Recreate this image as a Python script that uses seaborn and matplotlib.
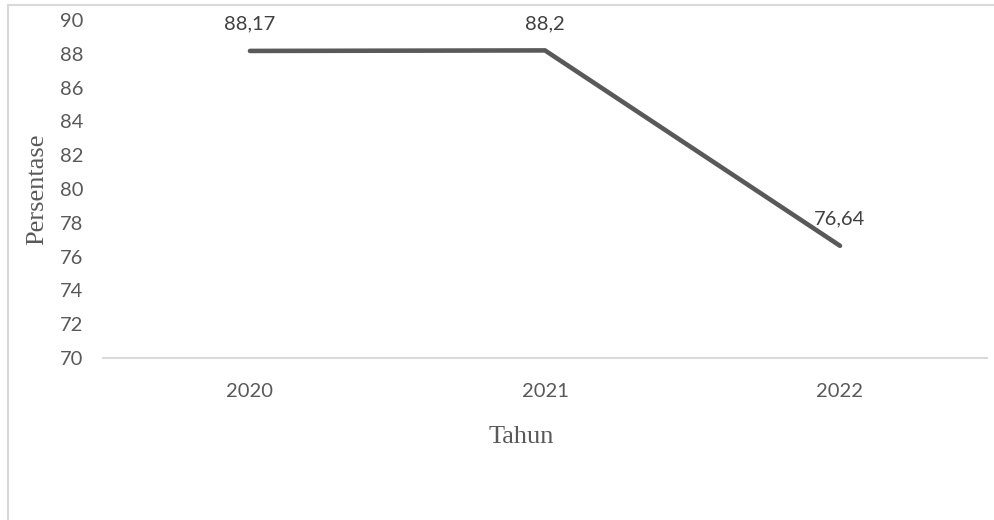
import matplotlib
matplotlib.use("Agg")
import matplotlib.pyplot as plt
import seaborn as sns
import pandas as pd
from matplotlib.lines import Line2D

years = ["2020", "2021", "2022"]
values = [88.17, 88.2, 76.64]
labels = ["88,17", "88,2", "76,64"]
y_ticks = [70, 72, 74, 76, 78, 80, 82, 84, 86, 88, 90]

sns.set_theme(style="white")
plt.rcParams["font.family"] = ["Lato", "DejaVu Sans"]

df = pd.DataFrame({"Tahun": years, "Persentase": values})

W, H = 995, 520
fig = plt.figure(figsize=(W / 100, H / 100), dpi=100)
ax = fig.add_axes([102.5 / W, 1 - 358 / H, 885 / W, 338 / H])

sns.lineplot(data=df, x="Tahun", y="Persentase", sort=False, ax=ax,
             color="#595959", linewidth=3.3, solid_capstyle="round",
             solid_joinstyle="miter")

ax.set_xlim(-0.5, 2.5)
ax.set_ylim(70, 90)
ax.set_yticks(y_ticks)
ax.set_yticklabels([str(t) for t in y_ticks])

for s in ["top", "right", "left"]:
    ax.spines[s].set_visible(False)
ax.spines["bottom"].set_color("#d9d9d9")
ax.spines["bottom"].set_linewidth(1.5)
ax.grid(False)

ax.tick_params(axis="both", length=0, labelsize=14.5, colors="#595959")
ax.tick_params(axis="y", pad=13.5)
ax.tick_params(axis="x", pad=18)

ax.set_xlabel("Tahun", family=["Liberation Serif"], fontsize=19,
              color="#595959")
ax.set_ylabel("Persentase", family=["Liberation Serif"], fontsize=19,
              color="#595959")
ax.xaxis.set_label_coords((521 - 102.5) / 885, -(437 - 358) / 338)
ax.xaxis.label.set_va("center")
ax.yaxis.set_label_coords(-(102.5 - 37) / 885, (358 - 189) / 338)
ax.yaxis.label.set_va("center")

for i, (v, lab) in enumerate(zip(values, labels)):
    ax.annotate(lab, xy=(i, v), xytext=(0, 27), textcoords="offset pixels",
                ha="center", va="center", fontsize=14.5, color="#404040")

# chart border (light gray)
fig.add_artist(Line2D([8 / W, 8 / W], [0, 1 - 5 / H], transform=fig.transFigure,
                      color="#d9d9d9", linewidth=1.5))
fig.add_artist(Line2D([8 / W, 1], [1 - 5 / H, 1 - 5 / H], transform=fig.transFigure,
                      color="#d9d9d9", linewidth=1.5))

fig.savefig("out.png", dpi=100)
